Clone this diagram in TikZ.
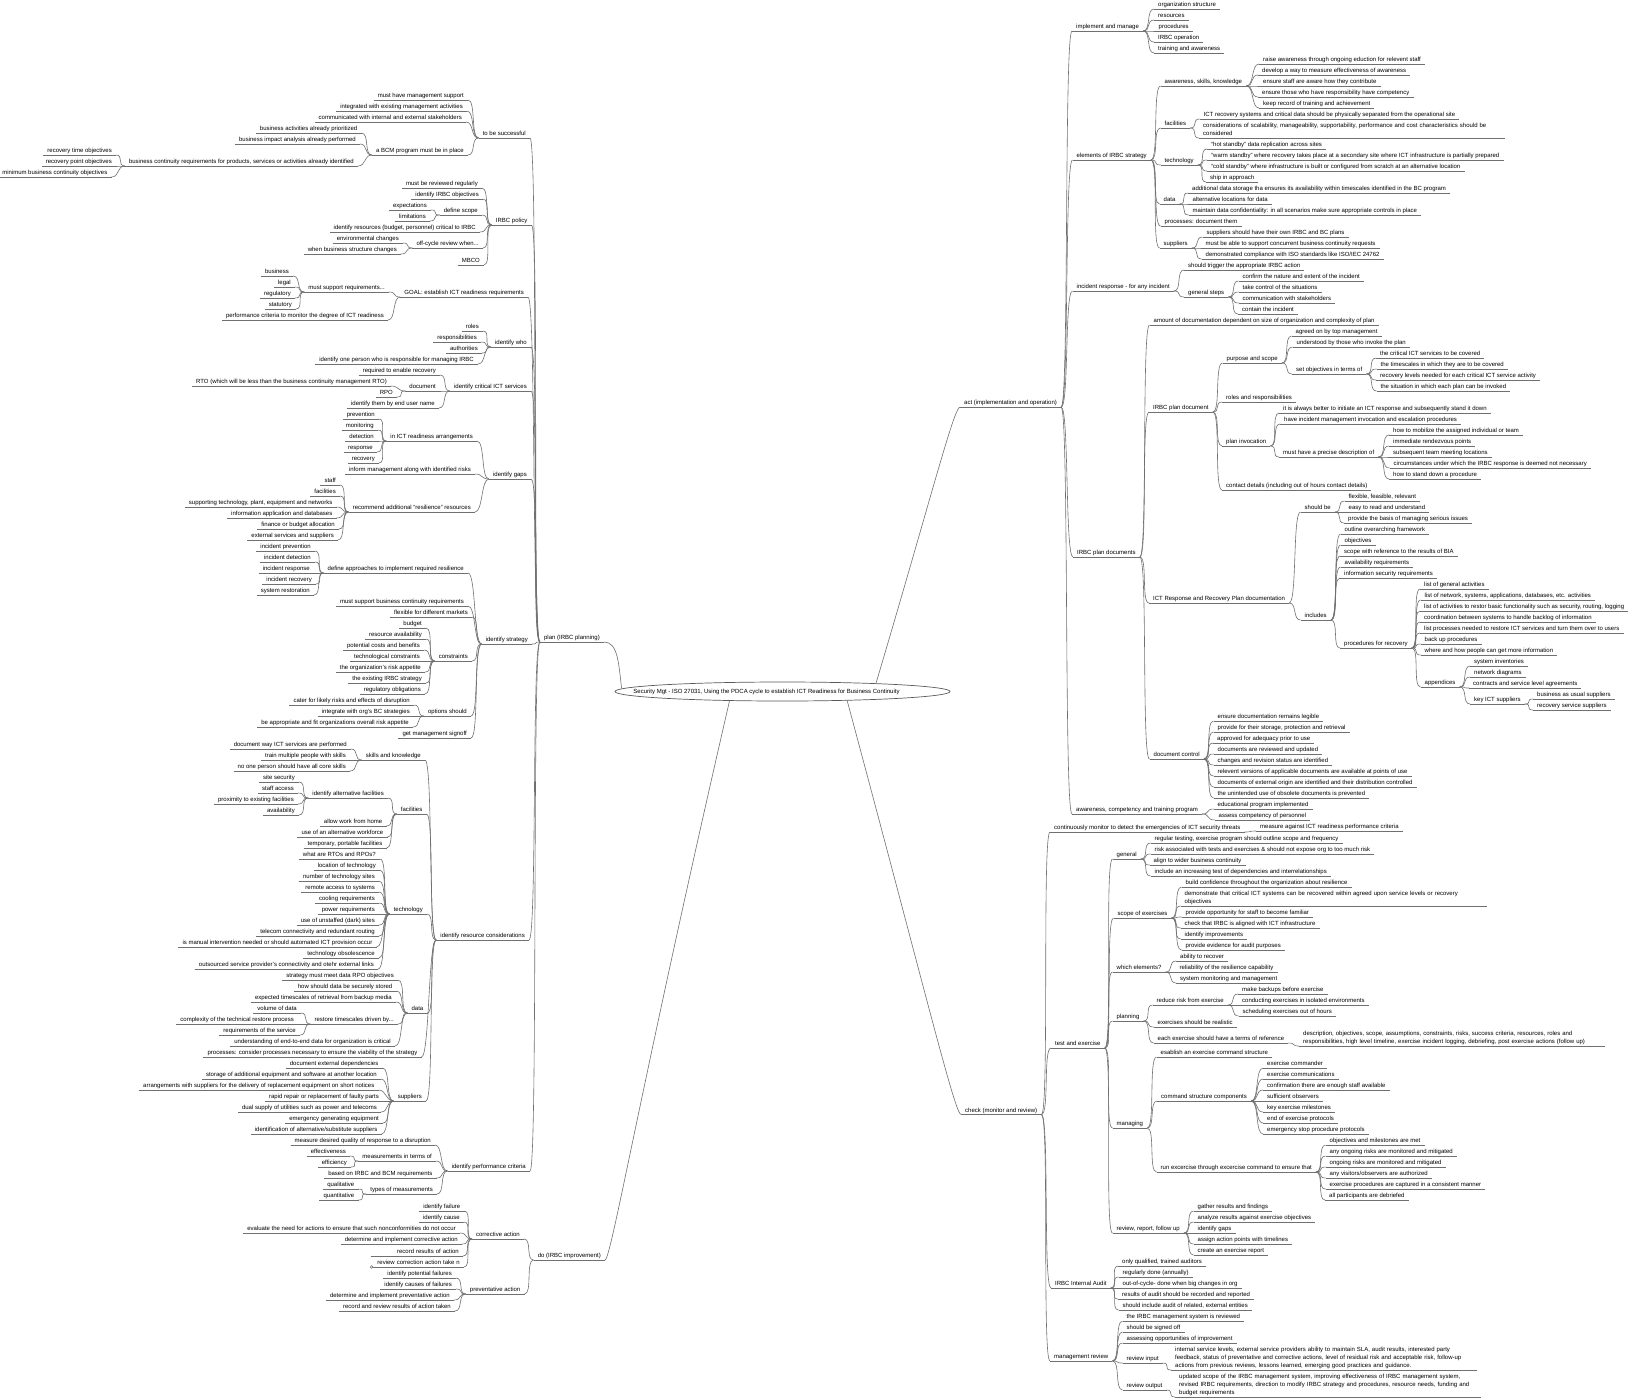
\documentclass[tikz,border=0pt]{standalone}
\usepackage{fontspec}
\setmainfont{Liberation Sans}
\usetikzlibrary{shapes.geometric}
\definecolor{branch}{RGB}{112,112,112}
\definecolor{rim}{RGB}{90,90,90}
\tikzset{
  topic/.style={inner xsep=4pt, inner ysep=1pt, font=\fontsize{6}{8}\selectfont,
    append after command={(\tikzlastnode.south west) edge[uline] (\tikzlastnode.south east)}},
  lt/.style={topic, text height=4.3pt, text depth=1.3pt, anchor=south east},
  rt/.style={topic, text height=4.3pt, text depth=1.3pt, anchor=south west},
  wrt/.style={topic, anchor=south west, text width=298pt, align=left,
    execute at end node={\rule[-1.3pt]{0pt}{1pt}}},
  uline/.style={draw=branch, line width=0.6pt},
  link/.style={draw=branch, line width=0.6pt},
  % links: right side from parent end, left side towards parent start
  rl/.style={link, to path={(\tikztostart.south east) .. controls +(8,0) and +(-8,0) .. (\tikztotarget.south west)}},
  ll/.style={link, to path={(\tikztostart.south west) .. controls +(-8,0) and +(8,0) .. (\tikztotarget.south east)}},
  core/.style={draw=rim, line width=0.7pt, ellipse, minimum width=335pt, minimum height=19pt,
    inner sep=0pt, font=\fontsize{6}{8}\selectfont}
}

\begin{document}
\begin{tikzpicture}[x=1pt, y=-1pt]
  \path[use as bounding box, fill=white] (0,0) rectangle (1632,1398);

  \node[core] (root) at (782.5,691.5) {\makebox[200pt]{\kern-32pt Security Mgt - ISO 27031, Using the PDCA cycle to establish ICT Readiness for Business Continuity}};

  % plan
  \node[lt] (plan) at (604,642) {plan (IRBC planning)};
  \node[lt] (succ) at (530,138) {to be successful};
  \node[lt] (mgmt) at (468,100) {must have management support};
  \node[lt] (integ) at (467,111) {integrated with existing management activities};
  \node[lt] (comm) at (466,122) {communicated with internal and external stakeholders};
  \node[lt] (bcm) at (468,155) {a BCM program must be in place};
  \node[lt] (prio) at (361.5,133) {business activities already prioritized};
  \node[lt] (bia) at (360,144) {business impact analysis already performed};
  \node[lt] (bcreq) at (358,166) {business continuity requirements for products, services or activities already identified};
  \node[lt] (rto) at (116,155) {recovery time objectives};
  \node[lt] (rpo) at (116,166) {recovery point objectives};
  \node[lt] (mbco) at (111.5,177) {minimum business continuity objectives};

  \node[lt] (policy) at (531.5,225) {IRBC policy};
  \node[lt] (review) at (482,188) {must be reviewed regularly};
  \node[lt] (objs) at (483,199) {identify IRBC objectives};
  \node[lt] (scope) at (482,215) {define scope};
  \node[lt] (expect) at (431,210) {expectations};
  \node[lt] (limits) at (430,221) {limitations};
  \node[lt] (resrc) at (480,232) {identify resources (budget, personnel) critical to IRBC};
  \node[lt] (offcyc) at (483,248) {off-cycle review when...};
  \node[lt] (envch) at (403,243) {environmental changes};
  \node[lt] (bsch) at (401,254) {when business structure changes};
  \node[lt] (mbcop) at (484,265) {MBCO};

  \node[lt] (goal) at (528,297) {GOAL: establish ICT readiness requirements};
  \node[lt] (mustreq) at (389,292) {must support requirements...};
  \node[lt] (rbus) at (293,276) {business};
  \node[lt] (rlegal) at (295,287) {legal};
  \node[lt] (rreg) at (295,298) {regulatory};
  \node[lt] (rstat) at (296,309) {statutory};
  \node[lt] (monit) at (388,320) {performance criteria to monitor the degree of ICT readiness};

  \node[lt] (who) at (531,347) {identify who};
  \node[lt] (roles) at (483,331) {roles};
  \node[lt] (resp) at (481,342) {responsibilities};
  \node[lt] (auth) at (482,353) {authorities};
  \node[lt] (oneper) at (478,364) {identify one person who is responsible for managing IRBC};

  \node[lt] (critsvc) at (531,391) {identify critical ICT services};
  \node[lt] (enable) at (440,375) {required to enable recovery};
  \node[lt] (docu) at (440,391) {document};
  \node[lt] (rtoless) at (391,386) {RTO (which will be less than the business continuity management RTO)};
  \node[lt] (rpodoc) at (397,397) {RPO};
  \node[lt] (enduser) at (439,408) {identify them by end user name};

  \node[lt] (gaps) at (531,479) {identify gaps};
  \node[lt] (arrang) at (477,441) {in ICT readiness arrangements};
  \node[lt] (gprev) at (379,419) {prevention};
  \node[lt] (gmon) at (378,430) {monitoring};
  \node[lt] (gdet) at (378,441) {detection};
  \node[lt] (gresp) at (377,452) {response};
  \node[lt] (grec) at (379,463) {recovery};
  \node[lt] (inform) at (475,474) {inform management along with identified risks};
  \node[lt] (recomm) at (475,512) {recommend additional ``resilience'' resources};
  \node[lt] (rstaff) at (340,485) {staff};
  \node[lt] (rfac) at (340,496) {facilities};
  \node[lt] (rtech) at (336.5,507) {supporting technology, plant, equipment and networks};
  \node[lt] (rinfo) at (336.5,518) {information application and databases};
  \node[lt] (rfin) at (339,529) {finance or budget allocation};
  \node[lt] (rext) at (338,540) {external services and suppliers};

  \node[lt] (strat) at (532,644) {identify strategy};
  \node[lt] (approach) at (468,573) {define approaches to implement required resilience};
  \node[lt] (aprev) at (315,551) {incident prevention};
  \node[lt] (adet) at (315,562) {incident detection};
  \node[lt] (aresp) at (314,573) {incident response};
  \node[lt] (arec) at (316,584) {incident recovery};
  \node[lt] (arest) at (314,595) {system restoration};
  \node[lt] (bcsup) at (468,606) {must support business continuity requirements};
  \node[lt] (flex) at (472,617) {flexible for different markets};
  \node[lt] (constr) at (472,661) {constraints};
  \node[lt] (cbud) at (426,628) {budget};
  \node[lt] (cavail) at (426,639) {resource availability};
  \node[lt] (ccost) at (424,650) {potential costs and benefits};
  \node[lt] (ctech) at (424,661) {technological constraints};
  \node[lt] (crisk) at (425,672) {the organization's risk appetite};
  \node[lt] (cexist) at (426,683) {the existing IRBC strategy};
  \node[lt] (creg) at (425,694) {regulatory obligations};
  \node[lt] (options) at (471,716) {options should};
  \node[lt] (ocater) at (414,705) {cater for likely risks and effects of disruption};
  \node[lt] (ointeg) at (414,716) {integrate with org's BC strategies};
  \node[lt] (ofit) at (413,727) {be appropriate and fit organizations overall risk appetite};
  \node[lt] (signoff) at (471,738) {get management signoff};

  \node[lt] (rescon) at (529,940) {identify resource considerations};
  \node[lt] (skills) at (425,760) {skills and knowledge};
  \node[lt] (sdoc) at (351,749) {document way ICT services are performed};
  \node[lt] (strain) at (350,760) {train multiple people with skills};
  \node[lt] (sone) at (350,771) {no one person should have all core skills};
  \node[lt] (facil) at (426.5,814) {facilities};
  \node[lt] (altfac) at (388,798) {identify alternative facilities};
  \node[lt] (fsec) at (299,782) {site security};
  \node[lt] (faccess) at (298,793) {staff access};
  \node[lt] (fprox) at (298,804) {proximity to existing facilities};
  \node[lt] (favail) at (299,815) {availability};
  \node[lt] (fhome) at (386.5,826) {allow work from home};
  \node[lt] (fwork) at (387.5,837) {use of an alternative workforce};
  \node[lt] (ftemp) at (386.5,848) {temporary, portable facilities};
  \node[lt] (techno) at (427,914) {technology};
  \node[lt] (trpo) at (380,859) {what are RTOs and RPOs?};
  \node[lt] (tloc) at (380,870) {location of technology};
  \node[lt] (tnum) at (379,881) {number of technology sites};
  \node[lt] (tremote) at (379,892) {remote access to systems};
  \node[lt] (tcool) at (379,903) {cooling requirements};
  \node[lt] (tpower) at (379,914) {power requirements};
  \node[lt] (tdark) at (379,925) {use of unstaffed (dark) sites};
  \node[lt] (ttele) at (379,936) {telecom connectivity and redundant routing};
  \node[lt] (tmanual) at (376.5,947) {is manual intervention needed or should automated ICT provision occur};
  \node[lt] (tobs) at (379,958) {technology obsolescence};
  \node[lt] (tout) at (378,969) {outsourced service provider's connectivity and otehr external links};
  \node[lt] (data) at (427.5,1013) {data};
  \node[lt] (drpo) at (398,980) {strategy must meet data RPO objectives};
  \node[lt] (dstore) at (396.5,991) {how should data be securely stored};
  \node[lt] (dretr) at (396,1002) {expected timescales of retrieval from backup media};
  \node[lt] (drest) at (398,1024) {restore timescales driven by...};
  \node[lt] (dvol) at (301,1013) {volume of data};
  \node[lt] (dcomp) at (298,1024) {complexity of the technical restore process};
  \node[lt] (dreqs) at (300,1035) {requirements of the service};
  \node[lt] (dend) at (395,1046) {understanding of end-to-end data for organization is critical};
  \node[lt] (procs) at (421.5,1057) {processes: consider processes necessary to ensure the viability of the strategy};
  \node[lt] (suppl) at (426,1101) {suppliers};
  \node[lt] (sudep) at (382.5,1068) {document external dependencies};
  \node[lt] (sustor) at (381,1079) {storage of additional equipment and software at another location};
  \node[lt] (suarr) at (378.5,1090) {arrangements with suppliers for the delivery of replacement equipment on short notices};
  \node[lt] (surep) at (383,1101) {rapid repair or replacement of faulty parts};
  \node[lt] (sudual) at (381,1112) {dual supply of utilities such as power and telecoms};
  \node[lt] (sugen) at (383,1123) {emergency generating equipment};
  \node[lt] (sualt) at (381.5,1134) {identification of alternative/substitute suppliers};

  \node[lt] (perf) at (530,1171) {identify performance criteria};
  \node[lt] (quality) at (435,1145) {measure desired quality of response to a disruption};
  \node[lt] (terms) at (436,1161) {measurements in terms of};
  \node[lt] (effect) at (350,1156) {effectiveness};
  \node[lt] (effic) at (351,1167) {efficiency};
  \node[lt] (based) at (436.5,1178) {based on IRBC and BCM requirements};
  \node[lt] (types) at (437,1194) {types of measurements};
  \node[lt] (qual) at (358.5,1189) {qualitative};
  \node[lt] (quant) at (358.5,1200) {quantitative};

  % do
  \node[lt] (doimp) at (605,1260) {do (IRBC improvement)};
  \node[lt] (correct) at (524,1239) {corrective action};
  \node[lt] (cfail) at (464.5,1211) {identify failure};
  \node[lt] (ccause) at (464,1222) {identify cause};
  \node[lt] (ceval) at (460,1233) {evaluate the need for actions to ensure that such nonconformities do not occur};
  \node[lt] (cimpl) at (462,1244) {determine and implement corrective action};
  \node[lt, text width=84pt, align=right] (crec) at (463,1256) {record results of action};
  \node[lt, text width=84pt, align=right] (crev) at (464,1267) {review correction action take n};
  \node[lt] (prevent) at (524.5,1294) {preventative action};
  \node[lt] (ppot) at (456,1278) {identify potential failures};
  \node[lt] (pcause) at (456,1289) {identify causes of failures};
  \node[lt] (pimpl) at (454,1300) {determine and implement preventative action};
  \node[lt] (prec) at (455,1311) {record and review results of action taken};

  % act
  \node[rt] (act) at (960,407) {act (implementation and operation)};
  \node[rt] (impl) at (1072,31) {implement and manage};
  \node[rt] (iorg) at (1154,9) {organization structure};
  \node[rt] (ires) at (1154,20) {resources};
  \node[rt] (iproc) at (1154.5,31) {procedures};
  \node[rt] (iop) at (1154,42) {IRBC operation};
  \node[rt] (itrain) at (1154,53) {training and awareness};

  \node[rt] (elem) at (1072.5,160) {elements of IRBC strategy};
  \node[rt] (aware) at (1160.5,86) {awareness, skills, knowledge};
  \node[rt] (araise) at (1259,64) {raise awareness through ongoing eduction for relevent staff};
  \node[rt] (adev) at (1258,75) {develop a way to measure effectiveness of awareness};
  \node[rt] (aensure) at (1259,86) {ensure staff are aware how they contribute};
  \node[rt] (acomp) at (1258,97) {ensure those who have responsibility have competency};
  \node[rt] (akeep) at (1259,108) {keep record of training and achievement};
  \node[rt] (efac) at (1160.5,128) {facilities};
  \node[rt] (esep) at (1199.5,119) {ICT recovery systems and critical data should be physically separated from the operational site};
  \node[wrt] (econs) at (1199,138) {considerations of scalability, manageability, supportability, performance and cost characteristics should be\\considered};
  \node[rt] (etech) at (1160.5,165) {technology};
  \node[rt] (ehot) at (1207,149) {``hot standby'' data replication across sites};
  \node[rt] (ewarm) at (1207,160) {``warm standby'' where recovery takes place at a secondary site where ICT infrastructure is partially prepared};
  \node[rt] (ecold) at (1207,171) {``cold standby'' where infrastructure is built or configured from scratch at an alternative location};
  \node[rt] (eship) at (1206,182) {ship in approach};
  \node[rt] (edata) at (1159.5,204) {data};
  \node[rt] (estor) at (1188,193) {additional data storage tha ensures its availability within timescales identified in the BC program};
  \node[rt] (eloc) at (1188.5,204) {alternative locations for data};
  \node[rt] (econf) at (1188.5,215) {maintain data confidentiality: in all scenarios make sure appropriate controls in place};
  \node[rt] (eproc) at (1160.5,226) {processes: document them};
  \node[rt] (esupp) at (1159.5,248) {suppliers};
  \node[rt] (eown) at (1202.5,237) {suppliers should have their own IRBC and BC plans};
  \node[rt] (econc) at (1201.5,248) {must be able to support concurrent business continuity requests};
  \node[rt] (eiso) at (1201.5,259) {demonstrated compliance with ISO standards like ISO/IEC 24762};

  \node[rt] (incid) at (1072.5,291) {incident response - for any incident};
  \node[rt] (trig) at (1184,270) {should trigger the appropriate IRBC action};
  \node[rt] (steps) at (1184,297) {general steps};
  \node[rt] (sconf) at (1238.5,281) {confirm the nature and extent of the incident};
  \node[rt] (sctrl) at (1238.5,292) {take control of the situations};
  \node[rt] (scomm) at (1238.5,303) {communication with stakeholders};
  \node[rt] (scont) at (1238,314) {contain the incident};

  \node[rt] (pdocs) at (1073,557) {IRBC plan documents};
  \node[rt] (amount) at (1149.5,325) {amount of documentation dependent on size of organization and complexity of plan};
  \node[rt] (pdoc) at (1149,412) {IRBC plan document};
  \node[rt] (purp) at (1222.5,363) {purpose and scope};
  \node[rt] (agreed) at (1291.5,336) {agreed on by top management};
  \node[rt] (underst) at (1292.5,347) {understood by those who invoke the plan};
  \node[rt] (setobj) at (1292,374) {set objectives in terms of};
  \node[rt] (ocrit) at (1376,358) {the critical ICT services to be covered};
  \node[rt] (otime) at (1376.5,369) {the timescales in which they are to be covered};
  \node[rt] (olev) at (1376,380) {recovery levels needed for each critical ICT service activity};
  \node[rt] (osit) at (1376.5,391) {the situation in which each plan can be invoked};
  \node[rt] (roresp) at (1222,402) {roles and responsibilities};
  \node[rt] (invoc) at (1222,446) {plan invocation};
  \node[rt] (better) at (1279,413) {it is always better to initiate an ICT response and subsequently stand it down};
  \node[rt] (escal) at (1280,424) {have incident management invocation and escalation procedures};
  \node[rt] (precise) at (1279,457) {must have a precise description of};
  \node[rt] (mobil) at (1389,435) {how to mobilize the assigned individual or team};
  \node[rt] (rendez) at (1389,446) {immediate rendezvous points};
  \node[rt] (meet) at (1389,457) {subsequent team meeting locations};
  \node[rt] (circ) at (1389.5,468) {circumstances under which the IRBC response is deemed not necessary};
  \node[rt] (standd) at (1389,479) {how to stand down a procedure};
  \node[rt] (contact) at (1222,490) {contact details (including out of hours contact details)};
  \node[rt] (rrplan) at (1149,603) {ICT Response and Recovery Plan documentation};
  \node[rt] (shouldbe) at (1300.5,512) {should be};
  \node[rt] (bflex) at (1344.5,501) {flexible, feasible, relevant};
  \node[rt] (beasy) at (1344.5,512) {easy to read and understand};
  \node[rt] (bbasis) at (1344,523) {provide the basis of managing serious issues};
  \node[rt] (incl) at (1300.5,620) {includes};
  \node[rt] (ioutl) at (1340.5,534) {outline overarching framework};
  \node[rt] (iobj) at (1340.5,545) {objectives};
  \node[rt] (iscope) at (1340,556) {scope with reference to the results of BIA};
  \node[rt] (iavail) at (1340.5,567) {availability requirements};
  \node[rt] (isec) at (1340,578) {information security requirements};
  \node[rt] (procrec) at (1340,648) {procedures for recovery};
  \node[rt] (lgen) at (1420,589) {list of general activities};
  \node[rt] (lnet) at (1420.5,600) {list of network, systems, applications, databases, etc. activities};
  \node[rt] (lbasic) at (1420,611) {list of activities to restor basic functionality such as security, routing, logging};
  \node[rt] (lcoord) at (1420,622) {coordination between systems to handle backlog of information};
  \node[rt] (lturn) at (1420,633) {list processes needed to restore ICT services and turn them over to users};
  \node[rt] (lback) at (1420.5,644) {back up procedures};
  \node[rt] (lwhere) at (1420.5,655) {where and how people can get more information};
  \node[rt] (appx) at (1420.5,687) {appendices};
  \node[rt] (xinv) at (1470,666) {system inventories};
  \node[rt] (xnet) at (1470,677) {network diagrams};
  \node[rt] (xsla) at (1469,688) {contracts and service level agreements};
  \node[rt] (xkey) at (1470,704) {key ICT suppliers};
  \node[rt] (kbau) at (1533,699) {business as usual suppliers};
  \node[rt] (krec) at (1533,710) {recovery service suppliers};
  \node[rt] (dctrl) at (1149.5,759) {document control};
  \node[rt] (dleg) at (1213.5,721) {ensure documentation remains legible};
  \node[rt] (dstor) at (1213.5,732) {provide for their storage, protection and retrieval};
  \node[rt] (dappr) at (1213,743) {approved for adequacy prior to use};
  \node[rt] (drev) at (1213.5,754) {documents are reviewed and updated};
  \node[rt] (dchg) at (1213.5,765) {changes and revision status are identified};
  \node[rt] (dvers) at (1213.5,776) {relevent versions of applicable documents are available at points of use};
  \node[rt] (dext) at (1213.5,787) {documents of external origin are identified and their distribution controlled};
  \node[rt] (dobs) at (1213.5,798) {the unintended use of obsolete documents is prevented};
  \node[rt] (train) at (1072,814) {awareness, competency and training program};
  \node[rt] (tedu) at (1213.5,809) {educational program implemented};
  \node[rt] (tasse) at (1214.5,820) {assess competency of personnel};

  % check
  \node[rt] (check) at (961,1114.5) {check (monitor and review)};
  \node[rt] (contmon) at (1050,832) {continuously monitor to detect the emergencies of ICT security threats};
  \node[rt] (measure) at (1256,831) {measure against ICT readiness performance criteria};
  \node[rt] (test) at (1051,1048) {test and exercise};
  \node[rt] (general) at (1112.5,859) {general};
  \node[rt] (gtest) at (1150.5,843) {regular testing, exercise program should outline scope and frequency};
  \node[rt] (grisk) at (1150.5,854) {risk associated with tests and exercises \& should not expose org to too much risk};
  \node[rt] (galign) at (1149.5,865) {align to wider business continuity};
  \node[rt] (gdep) at (1150.5,876) {include an increasing test of dependencies and interrelationships};
  \node[rt] (xscope) at (1113.5,918) {scope of exercises};
  \node[rt] (xconf) at (1181.5,887) {build confidence throughout the organization about resilience};
  \node[wrt] (xdemo) at (1180.5,906) {demonstrate that critical ICT systems can be recovered within agreed upon service levels or recovery\\objectives};
  \node[rt] (xfam) at (1181.5,917) {provide opportunity for staff to become familiar};
  \node[rt] (xalign) at (1180.5,928) {check that IRBC is aligned with ICT infrastructure};
  \node[rt] (ximpr) at (1180.5,939) {identify improvements};
  \node[rt] (xaudit) at (1181.5,950) {provide evidence for audit purposes};
  \node[rt] (which) at (1112.5,972) {which elements?};
  \node[rt] (wrec) at (1176,961) {ability to recover};
  \node[rt] (wrel) at (1175.5,972) {reliability of the resilience capability};
  \node[rt] (wsys) at (1176,983) {system monitoring and management};
  \node[rt] (planning) at (1112.5,1021) {planning};
  \node[rt] (reduce) at (1152.5,1005) {reduce risk from exercise};
  \node[rt] (rback) at (1238,994) {make backups before exercise};
  \node[rt] (riso) at (1238,1005) {conducting exercises in isolated environments};
  \node[rt] (rhours) at (1238.5,1016) {scheduling exercises out of hours};
  \node[rt] (real) at (1153.5,1027) {exercises should be realistic};
  \node[rt] (tor) at (1153.5,1043) {each exercise should have a terms of reference};
  \node[wrt] (tordet) at (1299,1046) {description, objectives, scope, assumptions, constraints, risks, success criteria, resources, roles and\\responsibilities, high level timeline, exercise incident logging, debriefing, post exercise actions (follow up)};
  \node[rt] (managing) at (1112.5,1128) {managing};
  \node[rt] (estab) at (1156.5,1057) {esablish an exercise command structure};
  \node[rt] (cscomp) at (1157,1101) {command structure components};
  \node[rt] (ccmd) at (1263,1068) {exercise commander};
  \node[rt] (ccomm) at (1263,1079) {exercise communications};
  \node[rt] (cstaff) at (1263,1090) {confirmation there are enough staff available};
  \node[rt] (cobs) at (1263,1101) {sufficient observers};
  \node[rt] (cmile) at (1263,1112) {key exercise milestones};
  \node[rt] (cend) at (1263,1123) {end of exercise protocols};
  \node[rt] (cstop) at (1263,1134) {emergency stop procedure protocols};
  \node[rt] (runex) at (1156.5,1172) {run excercise through excercise command to ensure that};
  \node[rt] (umet) at (1325.5,1145) {objectives and milestones are met};
  \node[rt] (uany) at (1325.5,1156) {any ongoing risks are monitored and mitigated};
  \node[rt] (uong) at (1325.5,1167) {ongoing risks are monitored and mitigated};
  \node[rt] (uvis) at (1325.5,1178) {any visitors/observers are authorized};
  \node[rt] (ucap) at (1325.5,1189) {exercise procedures are captured in a consistent manner};
  \node[rt] (udeb) at (1325,1200) {all participants are debriefed};
  \node[rt] (follow) at (1112.5,1233) {review, report, follow up};
  \node[rt] (vgath) at (1193.5,1211) {gather results and findings};
  \node[rt] (vana) at (1193.5,1222) {analyze results against exercise objectives};
  \node[rt] (vgaps) at (1193.5,1233) {identify gaps};
  \node[rt] (vassign) at (1193.5,1244) {assign action points with timelines};
  \node[rt] (vrep) at (1193.5,1255) {create an exercise report};
  \node[rt] (audit) at (1051,1288) {IRBC Internal Audit};
  \node[rt] (aqual) at (1118,1266) {only qualified, trained auditors};
  \node[rt] (aannual) at (1118.5,1277) {regularly done (annually)};
  \node[rt] (acycle) at (1118.5,1288) {out-of-cycle- done when big changes in org};
  \node[rt] (arecord) at (1118,1299) {results of audit should be recorded and reported};
  \node[rt] (aext) at (1118.5,1310) {should include audit of related, external entities};
  \node[rt] (mreview) at (1050,1361) {management review};
  \node[rt] (msys) at (1122.5,1321) {the IRBC management system is reviewed};
  \node[rt] (msign) at (1122.5,1332) {should be signed off};
  \node[rt] (mopp) at (1122.5,1343) {assessing opportunities of improvement};
  \node[rt] (minput) at (1122.5,1363) {review input};
  \node[wrt] (minlist) at (1171,1370) {internal service levels, external service providers ability to maintain SLA, audit results, interested party\\feedback, status of preventative and corrective actions, level of residual risk and acceptable risk, follow-up\\actions from previous reviews, lessons learned, emerging good practices and guidance.};
  \node[rt] (moutput) at (1122.5,1390) {review output};
  \node[wrt] (moutlist) at (1175,1397) {updated scope of the IRBC management system, improving effectiveness of IRBC management system,\\revised IRBC requirements, direction to modify IRBC strategy and procedures, resource needs, funding and\\budget requirements};

  \draw[link] (plan.south east) .. controls +(14,0) and +(-3,-25) .. (root.179);
  \draw[link] (root.5) .. controls +(55,-185) and +(-6,0) .. (act.south west);
  \draw[link] (root.-8) .. controls +(78,290) and +(-6,0) .. (check.south west);
  \draw[link] (root.190) .. controls +(-90,390) and +(6,0) .. (doimp.south east);

  \path (plan) edge[ll] (succ) edge[ll] (policy) edge[ll] (goal) edge[ll] (who) edge[ll] (critsvc) edge[ll] (gaps) edge[ll] (strat) edge[ll] (rescon) edge[ll] (perf);
  \path (succ) edge[ll] (mgmt) edge[ll] (integ) edge[ll] (comm) edge[ll] (bcm);
  \path (bcm) edge[ll] (prio) edge[ll] (bia) edge[ll] (bcreq);
  \path (bcreq) edge[ll] (rto) edge[ll] (rpo) edge[ll] (mbco);
  \path (policy) edge[ll] (review) edge[ll] (objs) edge[ll] (scope) edge[ll] (resrc) edge[ll] (offcyc) edge[ll] (mbcop);
  \path (scope) edge[ll] (expect) edge[ll] (limits);
  \path (offcyc) edge[ll] (envch) edge[ll] (bsch);
  \path (goal) edge[ll] (mustreq) edge[ll] (monit);
  \path (mustreq) edge[ll] (rbus) edge[ll] (rlegal) edge[ll] (rreg) edge[ll] (rstat);
  \path (who) edge[ll] (roles) edge[ll] (resp) edge[ll] (auth) edge[ll] (oneper);
  \path (critsvc) edge[ll] (enable) edge[ll] (docu) edge[ll] (enduser);
  \path (docu) edge[ll] (rtoless) edge[ll] (rpodoc);
  \path (gaps) edge[ll] (arrang) edge[ll] (inform) edge[ll] (recomm);
  \path (arrang) edge[ll] (gprev) edge[ll] (gmon) edge[ll] (gdet) edge[ll] (gresp) edge[ll] (grec);
  \path (recomm) edge[ll] (rstaff) edge[ll] (rfac) edge[ll] (rtech) edge[ll] (rinfo) edge[ll] (rfin) edge[ll] (rext);
  \path (strat) edge[ll] (approach) edge[ll] (bcsup) edge[ll] (flex) edge[ll] (constr) edge[ll] (options) edge[ll] (signoff);
  \path (approach) edge[ll] (aprev) edge[ll] (adet) edge[ll] (aresp) edge[ll] (arec) edge[ll] (arest);
  \path (constr) edge[ll] (cbud) edge[ll] (cavail) edge[ll] (ccost) edge[ll] (ctech) edge[ll] (crisk) edge[ll] (cexist) edge[ll] (creg);
  \path (options) edge[ll] (ocater) edge[ll] (ointeg) edge[ll] (ofit);
  \path (rescon) edge[ll] (skills) edge[ll] (facil) edge[ll] (techno) edge[ll] (data) edge[ll] (procs) edge[ll] (suppl);
  \path (skills) edge[ll] (sdoc) edge[ll] (strain) edge[ll] (sone);
  \path (facil) edge[ll] (altfac) edge[ll] (fhome) edge[ll] (fwork) edge[ll] (ftemp);
  \path (altfac) edge[ll] (fsec) edge[ll] (faccess) edge[ll] (fprox) edge[ll] (favail);
  \path (techno) edge[ll] (trpo) edge[ll] (tloc) edge[ll] (tnum) edge[ll] (tremote) edge[ll] (tcool) edge[ll] (tpower) edge[ll] (tdark) edge[ll] (ttele) edge[ll] (tmanual) edge[ll] (tobs) edge[ll] (tout);
  \path (data) edge[ll] (drpo) edge[ll] (dstore) edge[ll] (dretr) edge[ll] (drest) edge[ll] (dend);
  \path (drest) edge[ll] (dvol) edge[ll] (dcomp) edge[ll] (dreqs);
  \path (suppl) edge[ll] (sudep) edge[ll] (sustor) edge[ll] (suarr) edge[ll] (surep) edge[ll] (sudual) edge[ll] (sugen) edge[ll] (sualt);
  \path (perf) edge[ll] (quality) edge[ll] (terms) edge[ll] (based) edge[ll] (types);
  \path (terms) edge[ll] (effect) edge[ll] (effic);
  \path (types) edge[ll] (qual) edge[ll] (quant);
  \path (doimp) edge[ll] (correct) edge[ll] (prevent);
  \path (correct) edge[ll] (cfail) edge[ll] (ccause) edge[ll] (ceval) edge[ll] (cimpl) edge[ll] (crec) edge[ll] (crev);
  \path (prevent) edge[ll] (ppot) edge[ll] (pcause) edge[ll] (pimpl) edge[ll] (prec);
  \draw[link, fill=white] (crev.south west) circle (1.4pt);

  \path (act) edge[rl] (impl) edge[rl] (elem) edge[rl] (incid) edge[rl] (pdocs) edge[rl] (train);
  \path (impl) edge[rl] (iorg) edge[rl] (ires) edge[rl] (iproc) edge[rl] (iop) edge[rl] (itrain);
  \path (elem) edge[rl] (aware) edge[rl] (efac) edge[rl] (etech) edge[rl] (edata) edge[rl] (eproc) edge[rl] (esupp);
  \path (aware) edge[rl] (araise) edge[rl] (adev) edge[rl] (aensure) edge[rl] (acomp) edge[rl] (akeep);
  \path (efac) edge[rl] (esep) edge[rl] (econs);
  \path (etech) edge[rl] (ehot) edge[rl] (ewarm) edge[rl] (ecold) edge[rl] (eship);
  \path (edata) edge[rl] (estor) edge[rl] (eloc) edge[rl] (econf);
  \path (esupp) edge[rl] (eown) edge[rl] (econc) edge[rl] (eiso);
  \path (incid) edge[rl] (trig) edge[rl] (steps);
  \path (steps) edge[rl] (sconf) edge[rl] (sctrl) edge[rl] (scomm) edge[rl] (scont);
  \path (pdocs) edge[rl] (amount) edge[rl] (pdoc) edge[rl] (rrplan) edge[rl] (dctrl);
  \path (pdoc) edge[rl] (purp) edge[rl] (roresp) edge[rl] (invoc) edge[rl] (contact);
  \path (purp) edge[rl] (agreed) edge[rl] (underst) edge[rl] (setobj);
  \path (setobj) edge[rl] (ocrit) edge[rl] (otime) edge[rl] (olev) edge[rl] (osit);
  \path (invoc) edge[rl] (better) edge[rl] (escal) edge[rl] (precise);
  \path (precise) edge[rl] (mobil) edge[rl] (rendez) edge[rl] (meet) edge[rl] (circ) edge[rl] (standd);
  \path (rrplan) edge[rl] (shouldbe) edge[rl] (incl);
  \path (shouldbe) edge[rl] (bflex) edge[rl] (beasy) edge[rl] (bbasis);
  \path (incl) edge[rl] (ioutl) edge[rl] (iobj) edge[rl] (iscope) edge[rl] (iavail) edge[rl] (isec) edge[rl] (procrec);
  \path (procrec) edge[rl] (lgen) edge[rl] (lnet) edge[rl] (lbasic) edge[rl] (lcoord) edge[rl] (lturn) edge[rl] (lback) edge[rl] (lwhere) edge[rl] (appx);
  \path (appx) edge[rl] (xinv) edge[rl] (xnet) edge[rl] (xsla) edge[rl] (xkey);
  \path (xkey) edge[rl] (kbau) edge[rl] (krec);
  \path (dctrl) edge[rl] (dleg) edge[rl] (dstor) edge[rl] (dappr) edge[rl] (drev) edge[rl] (dchg) edge[rl] (dvers) edge[rl] (dext) edge[rl] (dobs);
  \path (train) edge[rl] (tedu) edge[rl] (tasse);

  \path (check) edge[rl] (contmon) edge[rl] (test) edge[rl] (audit) edge[rl] (mreview);
  \path (contmon) edge[rl] (measure);
  \path (test) edge[rl] (general) edge[rl] (xscope) edge[rl] (which) edge[rl] (planning) edge[rl] (managing) edge[rl] (follow);
  \path (general) edge[rl] (gtest) edge[rl] (grisk) edge[rl] (galign) edge[rl] (gdep);
  \path (xscope) edge[rl] (xconf) edge[rl] (xdemo) edge[rl] (xfam) edge[rl] (xalign) edge[rl] (ximpr) edge[rl] (xaudit);
  \path (which) edge[rl] (wrec) edge[rl] (wrel) edge[rl] (wsys);
  \path (planning) edge[rl] (reduce) edge[rl] (real) edge[rl] (tor);
  \path (reduce) edge[rl] (rback) edge[rl] (riso) edge[rl] (rhours);
  \path (tor) edge[rl] (tordet);
  \path (managing) edge[rl] (estab) edge[rl] (cscomp) edge[rl] (runex);
  \path (cscomp) edge[rl] (ccmd) edge[rl] (ccomm) edge[rl] (cstaff) edge[rl] (cobs) edge[rl] (cmile) edge[rl] (cend) edge[rl] (cstop);
  \path (runex) edge[rl] (umet) edge[rl] (uany) edge[rl] (uong) edge[rl] (uvis) edge[rl] (ucap) edge[rl] (udeb);
  \path (follow) edge[rl] (vgath) edge[rl] (vana) edge[rl] (vgaps) edge[rl] (vassign) edge[rl] (vrep);
  \path (audit) edge[rl] (aqual) edge[rl] (aannual) edge[rl] (acycle) edge[rl] (arecord) edge[rl] (aext);
  \path (mreview) edge[rl] (msys) edge[rl] (msign) edge[rl] (mopp) edge[rl] (minput) edge[rl] (moutput);
  \path (minput) edge[rl] (minlist);
  \path (moutput) edge[rl] (moutlist);
\end{tikzpicture}
\end{document}
